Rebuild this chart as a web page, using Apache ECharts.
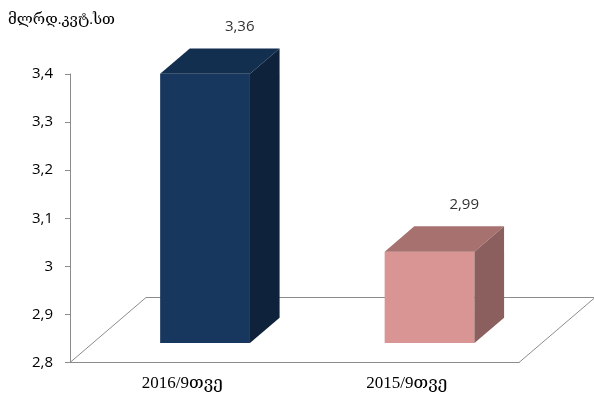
<!DOCTYPE html>
<html>
<head>
<meta charset="utf-8">
<script src="https://cdn.jsdelivr.net/npm/echarts@6/dist/echarts.min.js"></script>
<style>
  html, body { margin: 0; padding: 0; background: #fff; }
  #chart { width: 594px; height: 406px; }
</style>
</head>
<body>
<div id="chart"></div>
<script>
// --- data ---
const categories = ['2016/9თვე', '2015/9თვე']
const values = [3.36, 2.99]
const valueLabels = ['3,36', '2,99']
const unitLabel = 'მლრდ.კვტ.სთ'
const yMin = 2.8
const yMax = 3.4
const yStep = 0.1

// --- styles ---
const barFaces = [
  {front: '#17375e', top: '#132f50', side: '#0f223c'},
  {front: '#d99594', top: '#a6716f', side: '#8b5f5d'}
]
const floorDepth = [76, -65]   // 3d floor offset in px
const frontAt = 0.3            // bar front face position within floor depth
const barDepth = 0.39          // bar depth as part of floor depth
const lineColor = '#8c8c8c'
const sansFont = 'Open Sans, Liberation Sans, DejaVu Sans, sans-serif'
const serifFont = 'Liberation Serif, DejaVu Serif, serif'

const fmt = v => String(Math.round(v * 10) / 10).replace('.', ',')

const chart = echarts.init(document.getElementById('chart'))

const renderFloor = (params, api) => {
  const cs = params.coordSys
  const x0 = cs.x, x1 = cs.x + cs.width, yb = cs.y + cs.height
  const [dx, dy] = floorDepth
  return {
    type: 'polyline',
    shape: {points: [[x0, yb], [x0 + dx, yb + dy], [x1 + dx, yb + dy], [x1, yb]]},
    style: {stroke: lineColor, lineWidth: 1, fill: null}
  }
}

const renderBar = (params, api) => {
  const idx = api.value(0)
  const top = api.coord([idx, api.value(1)])
  const base = api.coord([idx, yMin])
  const w = api.size([1, 0])[0] * 0.4
  const ox = floorDepth[0] * frontAt, oy = floorDepth[1] * frontAt
  const dx = floorDepth[0] * barDepth, dy = floorDepth[1] * barDepth
  const x0 = top[0] - w / 2 + ox, x1 = x0 + w
  const yT = top[1] + oy, yB = base[1] + oy
  const c = barFaces[idx]
  return {
    type: 'group',
    children: [
      {type: 'polygon', shape: {points: [[x0, yT], [x1, yT], [x1, yB], [x0, yB]]}, style: {fill: c.front}},
      {type: 'polygon', shape: {points: [[x0, yT], [x1, yT], [x1 + dx, yT + dy], [x0 + dx, yT + dy]]}, style: {fill: c.top}},
      {type: 'polygon', shape: {points: [[x1, yT], [x1 + dx, yT + dy], [x1 + dx, yB + dy], [x1, yB]]}, style: {fill: c.side}},
      {
        type: 'text',
        x: x0 + w / 2 + dx + 5,
        y: yT + dy - 22,
        style: {text: valueLabels[idx], fill: '#333', font: '15px ' + sansFont, align: 'center', verticalAlign: 'middle'}
      }
    ]
  }
}

chart.setOption({
  animation: false,
  title: {
    text: unitLabel,
    left: 3,
    top: 8,
    textStyle: {fontSize: 15, fontWeight: 'normal', color: '#000', fontFamily: serifFont}
  },
  grid: {left: 70, right: 75, top: 74, bottom: 43.5, containLabel: false, outerBoundsMode: 'none'},
  xAxis: {
    type: 'category',
    data: categories,
    axisLine: {lineStyle: {color: lineColor}},
    axisTick: {length: 5, lineStyle: {color: lineColor}},
    axisLabel: {margin: 13, fontSize: 17, color: '#000', fontFamily: serifFont}
  },
  yAxis: {
    type: 'value',
    min: yMin,
    max: yMax,
    interval: yStep,
    splitLine: {show: false},
    axisLine: {show: true, lineStyle: {color: lineColor}},
    axisTick: {show: true, length: 5, lineStyle: {color: lineColor}},
    axisLabel: {margin: 17, fontSize: 15, color: '#000', fontFamily: sansFont, formatter: fmt}
  },
  series: [
    {type: 'custom', renderItem: renderFloor, data: [[0]], z: 1, silent: true},
    {type: 'custom', renderItem: renderBar, data: categories.map((c, i) => [i, values[i]]), z: 2}
  ]
})
</script>
</body>
</html>
